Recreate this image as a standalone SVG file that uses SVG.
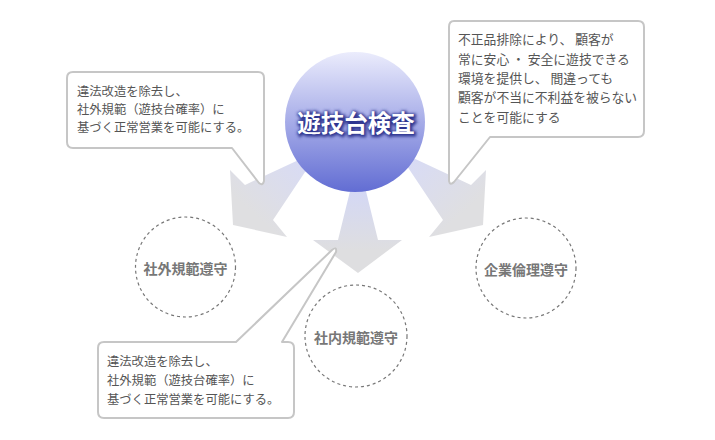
<svg xmlns="http://www.w3.org/2000/svg" width="715" height="440" viewBox="0 0 715 440">
<defs>
<style>
.call{fill:#fff;stroke:#c6c6c6;stroke-width:2;stroke-linejoin:round}
.ct{font-family:"Noto Sans CJK JP","Noto Sans",sans-serif;font-size:12.3px;fill:#555}
.ring{fill:#fff;stroke:#777;stroke-width:1.2;stroke-dasharray:3 3}
.rt{font-family:"Noto Sans CJK JP","Noto Sans",sans-serif;font-size:14px;font-weight:bold;fill:#777;text-anchor:middle;dominant-baseline:central}
</style>
<linearGradient id="gc" x1="0" y1="0" x2="0" y2="1">
<stop offset="0" stop-color="#ebecfc"/>
<stop offset="0.5" stop-color="#a6ace8"/>
<stop offset="1" stop-color="#626dd3"/>
</linearGradient>
<linearGradient id="gl" gradientUnits="userSpaceOnUse" x1="305" y1="160" x2="255" y2="215">
<stop offset="0" stop-color="#d8dbf5"/>
<stop offset="1" stop-color="#dfdfe1"/>
</linearGradient>
<linearGradient id="gr" gradientUnits="userSpaceOnUse" x1="411" y1="160" x2="461" y2="215">
<stop offset="0" stop-color="#d8dbf5"/>
<stop offset="1" stop-color="#dfdfe1"/>
</linearGradient>
<linearGradient id="gd" gradientUnits="userSpaceOnUse" x1="0" y1="192" x2="0" y2="250">
<stop offset="0" stop-color="#d4d8f4"/>
<stop offset="1" stop-color="#dedee0"/>
</linearGradient>
<filter id="glow" x="-20%" y="-50%" width="140%" height="200%">
<feGaussianBlur stdDeviation="1.6"/>
</filter>
</defs>
<rect width="715" height="440" fill="#fff"/>
<g id="connectors">
<polygon points="233,225 287,237 273,220 311,163 305,157 245,185 230,170" fill="url(#gl)"/>
<polygon points="483,225 429,237 443,220 405,163 411,157 471,185 486,170" fill="url(#gr)"/>
<polygon points="354,175 362,175 378,240 402,240 358,273 313,240 338,240" fill="url(#gd)"/>
</g>
<g id="center">
<circle cx="355" cy="122" r="70" fill="url(#gc)"/>
<text x="357" y="123" text-anchor="middle" dominant-baseline="central" font-family="Noto Sans CJK JP,sans-serif" font-size="23.5" font-weight="bold" fill="#2f3690" stroke="#2f3690" stroke-width="3" filter="url(#glow)">遊技台検査</text>
<text x="356" y="122" text-anchor="middle" dominant-baseline="central" font-family="Noto Sans CJK JP,sans-serif" font-size="23.5" font-weight="bold" fill="#fff">遊技台検査</text>
</g>
<g id="node-gaibu">
<circle class="ring" cx="185.5" cy="267" r="50"/>
<text class="rt" x="185.5" y="268">社外規範遵守</text>
</g>
<g id="node-naibu">
<circle class="ring" cx="356" cy="336" r="51"/>
<text class="rt" x="356" y="337">社内規範遵守</text>
</g>
<g id="node-kigyo">
<circle class="ring" cx="526" cy="268" r="50"/>
<text class="rt" x="526" y="269">企業倫理遵守</text>
</g>
<g id="callout-topleft">
<path class="call" d="M73,72 H258 Q264,72 264,78 V181 Q263,186 259,183 L232,148 H73 Q67,148 67,142 V78 Q67,72 73,72 Z"/>
<text class="ct" x="77" y="96">違法改造を除去し、</text>
<text class="ct" x="77" y="114">社外規範（遊技台確率）に</text>
<text class="ct" x="77" y="132">基づく正常営業を可能にする。</text>
</g>
<g id="callout-topright">
<path class="call" d="M454,21 H638 Q644,21 644,27 V131 Q644,137 638,137 H490 L454,182 Q450,186 449,181 V27 Q449,21 454,21 Z"/>
<text class="ct" x="458" y="44" style="font-size:12.8px">不正品排除により、 顧客が</text>
<text class="ct" x="458" y="64" style="font-size:12.8px">常に安心 ・ 安全に遊技できる</text>
<text class="ct" x="458" y="83" style="font-size:12.8px">環境を提供し、 間違っても</text>
<text class="ct" x="458" y="102" style="font-size:12.8px">顧客が不当に不利益を被らない</text>
<text class="ct" x="458" y="122" style="font-size:12.8px">ことを可能にする</text>
</g>
<g id="callout-bottom">
<path class="call" d="M104,342 H236 L332,250 Q337,246 336,252 L282,342 H288 Q294,342 294,348 V412 Q294,418 288,418 H104 Q98,418 98,412 V348 Q98,342 104,342 Z"/>
<text class="ct" x="107" y="366">違法改造を除去し、</text>
<text class="ct" x="107" y="385">社外規範（遊技台確率）に</text>
<text class="ct" x="107" y="404">基づく正常営業を可能にする。</text>
</g>
</svg>
